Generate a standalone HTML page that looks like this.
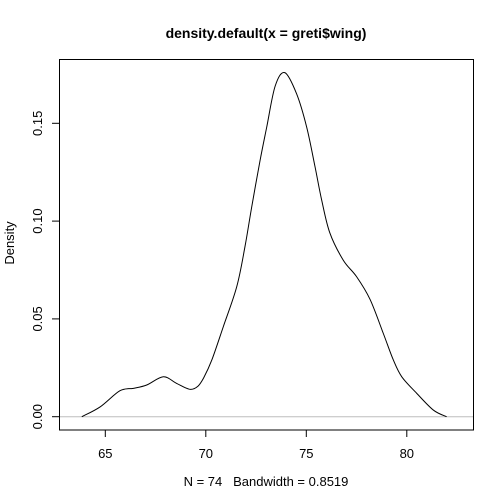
<!DOCTYPE html>
<html><head><meta charset="utf-8"><style>
html,body{margin:0;padding:0;background:#fff;}
svg{display:block;font-family:"Liberation Sans",Arial,sans-serif;}
</style></head><body>
<svg id="c" width="504" height="504" xmlns="http://www.w3.org/2000/svg">
<rect width="504" height="504" fill="#fff"/>
<text x="266" y="38" text-anchor="middle" font-size="14" font-weight="bold">density.default(x = greti$wing)</text>
<text x="266" y="486" text-anchor="middle" font-size="13" style="white-space:pre">N = 74   Bandwidth = 0.8519</text>
<text transform="translate(14,243) rotate(-90)" text-anchor="middle" font-size="13">Density</text>
<g id="axes"></g>
<rect x="59.5" y="59.5" width="414" height="370.5" fill="none" stroke="#000" stroke-width="1"/>
</svg>
<script>
const xTicks=[65,70,75,80];
const yTicks=[0,0.05,0.10,0.15];
const yTickLabels=["0.00","0.05","0.10","0.15"];
const xs=[63.83,64.74,65.73,66.4,67.06,67.89,68.55,69.2,69.6,69.9,70.3,70.87,71.54,71.95,72.28,72.7,73.03,73.45,73.93,74.52,75.02,75.43,75.76,76.17,76.84,77.5,78.17,78.83,79.33,79.75,80.49,81.32,81.98];
const ys=[0,0.005,0.0133,0.0145,0.0162,0.0204,0.017,0.014,0.0155,0.02,0.029,0.046,0.0665,0.087,0.107,0.131,0.148,0.169,0.1759,0.165,0.148,0.128,0.111,0.094,0.080,0.0716,0.060,0.0426,0.029,0.0204,0.012,0.0034,0];
const sx=v=>105.3+(v-65)*20.1;
const sy=v=>416.7-v*1956;
const NS="http://www.w3.org/2000/svg";
const svg=document.getElementById('c');
const g=document.getElementById('axes');
function mk(t,a){const e=document.createElementNS(NS,t);for(const k in a)e.setAttribute(k,a[k]);return e;}
const base=mk('line',{x1:59.5,x2:473.5,y1:sy(0),y2:sy(0),stroke:'#bebebe','stroke-width':1});


g.appendChild(base);
xTicks.forEach(v=>{
 const l=mk('line',{x1:sx(v),x2:sx(v),y1:430,y2:437,stroke:'#000'});
 
 
 g.appendChild(l);
 const t=mk('text',{x:sx(v),y:458,'text-anchor':'middle','font-size':13});
 t.textContent=String(v);
 
 
 g.appendChild(t);
});
yTicks.forEach((v,i)=>{
 const l=mk('line',{x1:52,x2:59.5,y1:sy(v),y2:sy(v),stroke:'#000'});
 
 
 g.appendChild(l);
 const t=mk('text',{transform:`translate(42,${sy(v)}) rotate(-90)`,'text-anchor':'middle','font-size':13});
 t.textContent=yTickLabels[i];
 
 
 g.appendChild(t);
});
const P=xs.map((x,i)=>[sx(x),sy(ys[i])]);
let d=`M${P[0][0]},${P[0][1]}`;
for(let i=0;i<P.length-1;i++){
 const p0=P[Math.max(0,i-1)],p1=P[i],p2=P[i+1],p3=P[Math.min(P.length-1,i+2)];
 const c1=[p1[0]+(p2[0]-p0[0])/6,p1[1]+(p2[1]-p0[1])/6];
 const c2=[p2[0]-(p3[0]-p1[0])/6,p2[1]-(p3[1]-p1[1])/6];
 d+=` C${c1[0]},${c1[1]} ${c2[0]},${c2[1]} ${p2[0]},${p2[1]}`;
}
const path=mk('path',{d:d,fill:'none',stroke:'#000','stroke-width':1});


g.appendChild(path);
</script>
</body></html>
